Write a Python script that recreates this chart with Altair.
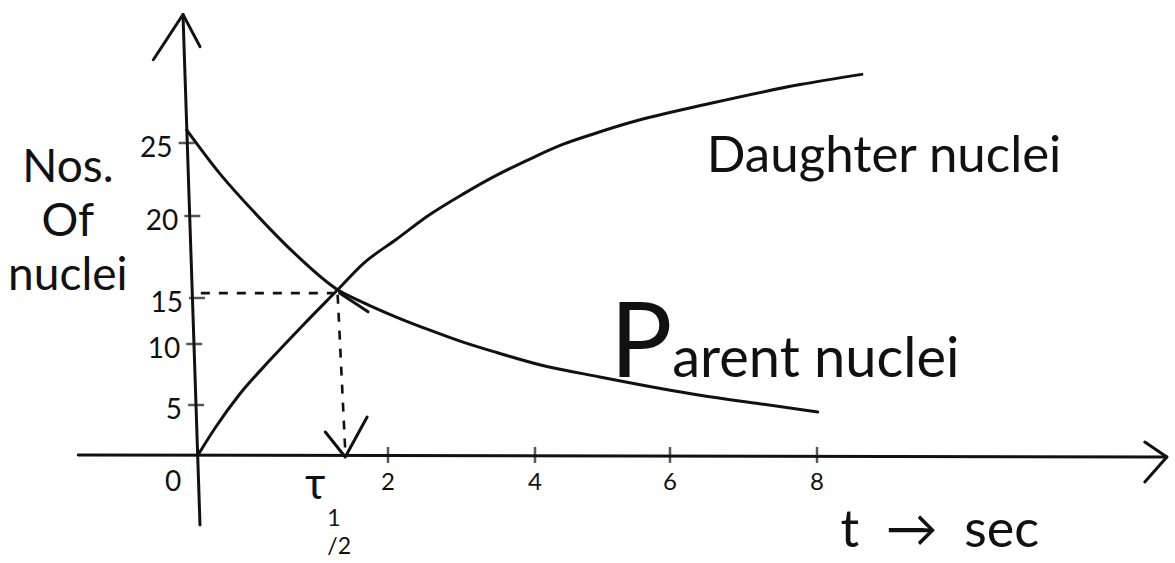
import altair as alt
import pandas as pd

# Hand-ruled axes: tick value -> pixel position (piecewise linear scales)
T_CAL = [0, 2, 4, 6, 8]
T_PIX = [198, 388, 535, 670, 817]
N_CAL = [0, 5, 10, 15, 20, 25]
N_PIX = [455, 405, 344, 298, 216, 143]

# Parent nuclei (decay curve)
T_PARENT = [-0.12, 0.23, 0.60, 1.02, 1.47, 1.74, 2.12, 2.57, 3.02, 3.48, 4.07, 4.96, 6.41, 7.22, 8.01]
N_PARENT = [25.9, 22.9, 20.2, 17.7, 15.5, 14.5, 12.9, 11.5, 10.2, 9.3, 8.3, 7.3, 5.8, 5.1, 4.3]

# Daughter nuclei (growth curve)
T_DAUGHTER = [0, 0.18, 0.44, 0.76, 1.11, 1.47, 1.74, 2.12, 2.57, 3.02, 3.48, 3.93, 4.41,
              4.92, 5.41, 6.54, 7.77, 8.61]
N_DAUGHTER = [0, 2.7, 5.9, 8.7, 12.1, 15.5, 17.1, 18.6, 20.1, 21.5, 22.8, 23.9, 24.9,
              25.7, 26.4, 27.7, 29.0, 29.7]

# Ticks
X_TICKS = [2, 4, 6, 8]
Y_TICKS = [5, 10, 15, 20, 25]
Y_TICK_T = [-0.02, -0.04, -0.01, -0.06, -0.12]

# Half-life marker
T_HALF = 1.55
N_HALF = 15.3

# Axis strokes (value coordinates)
Y_AXIS_T = [-0.158, 0.021]
Y_AXIS_N = [33.8, -7.0]
Y_HEAD_T = [-0.47, -0.158, 0.021]
Y_HEAD_N = [30.7, 33.8, 31.6]
X_AXIS_T = [-1.26, 12.76]
X_AXIS_N = [0.0, -0.2]
X_HEAD_T = [12.46, 12.76, 12.46]
X_HEAD_N = [1.3, -0.2, -2.7]
HALF_HEAD_T = [1.34, T_HALF, 1.78]
HALF_HEAD_N = [2.3, -0.2, 3.8]
DOUBLE_T = [1.49, 1.79]
DOUBLE_N = [15.3, 13.5]

# Dashed guides
H_DASH_T = [0.03, 1.42]
H_DASH_N = [N_HALF, N_HALF]
V_DASH_T = [1.47, T_HALF]
V_DASH_N = [15.2, 0.4]

# Text
Y_TITLE = "Nos.\nOf\nnuclei"
TAU_SUB = "1\n/2"

FONT = "Lato"
INK = "#111111"

xs = alt.Scale(domain=T_CAL, range=T_PIX, nice=False, zero=False)
ys = alt.Scale(domain=N_CAL, range=N_PIX, nice=False, zero=False)


def X(field="t"):
    return alt.X(f"{field}:Q", scale=xs, axis=None)


def Y(field="n"):
    return alt.Y(f"{field}:Q", scale=ys, axis=None)


def polyline(name, ts, ns):
    return pd.DataFrame({"stroke": name, "order": range(len(ts)), "t": ts, "n": ns})


def label_at(t, n, text):
    return pd.DataFrame({"t": [t], "n": [n], "label": [text]})


curves = pd.concat([
    polyline("parent", T_PARENT, N_PARENT),
    polyline("daughter", T_DAUGHTER, N_DAUGHTER),
])

strokes = pd.concat([
    polyline("y_axis", Y_AXIS_T, Y_AXIS_N),
    polyline("y_head", Y_HEAD_T, Y_HEAD_N),
    polyline("x_axis", X_AXIS_T, X_AXIS_N),
    polyline("x_head", X_HEAD_T, X_HEAD_N),
    polyline("half_head", HALF_HEAD_T, HALF_HEAD_N),
    polyline("double", DOUBLE_T, DOUBLE_N),
])

dashes = pd.concat([
    polyline("h_dash", H_DASH_T, H_DASH_N),
    polyline("v_dash", V_DASH_T, V_DASH_N),
])

curve_layer = alt.Chart(curves).mark_line(
    color=INK, strokeWidth=3, interpolate="monotone", strokeCap="round"
).encode(x=X(), y=Y(), detail="stroke:N", order="order:Q")

stroke_layer = alt.Chart(strokes).mark_line(
    color=INK, strokeWidth=3, strokeCap="round", strokeJoin="round"
).encode(x=X(), y=Y(), detail="stroke:N", order="order:Q")

dash_layer = alt.Chart(dashes).mark_line(
    color=INK, strokeWidth=2.6, strokeDash=[9, 9]
).encode(x=X(), y=Y(), detail="stroke:N", order="order:Q")

x_tick_df = pd.DataFrame({"t": X_TICKS, "n": [0] * len(X_TICKS), "label": [str(v) for v in X_TICKS]})
y_tick_df = pd.DataFrame({"t": Y_TICK_T, "n": Y_TICKS, "label": [str(v) for v in Y_TICKS]})

x_ticks = alt.Chart(x_tick_df).mark_tick(
    color=INK, orient="vertical", size=16, thickness=2.5
).encode(x=X(), y=Y())

y_ticks = alt.Chart(y_tick_df).mark_tick(
    color=INK, orient="horizontal", size=16, thickness=2.5
).encode(x=X(), y=Y())

x_labels = alt.Chart(x_tick_df).mark_text(
    font=FONT, fontSize=24, color=INK, align="center", baseline="middle", dy=28
).encode(x=X(), y=Y(), text="label:N")

zero_label = alt.Chart(label_at(0, 0, "0")).mark_text(
    font=FONT, fontSize=28, color=INK, align="center", baseline="middle", dx=-25, dy=28
).encode(x=X(), y=Y(), text="label:N")

y_labels = alt.Chart(y_tick_df).mark_text(
    font=FONT, fontSize=28, color=INK, align="right", baseline="middle", dx=-14, dy=6
).encode(x=X(), y=Y(), text="label:N")

tau = alt.Chart(label_at(T_HALF, 0, "τ")).mark_text(
    font=FONT, fontSize=44, color=INK, align="center", baseline="middle", dx=-30, dy=31
).encode(x=X(), y=Y(), text="label:N")

tau_sub = alt.Chart(label_at(T_HALF, 0, TAU_SUB)).mark_text(
    font=FONT, fontSize=23, lineHeight=28, lineBreak="\n", color=INK,
    align="left", baseline="top", dx=-18, dy=53
).encode(x=X(), y=Y(), text="label:N")

y_title = alt.Chart(label_at(-1.37, 24.8, Y_TITLE)).mark_text(
    font=FONT, fontSize=46, lineHeight=54, lineBreak="\n", color=INK,
    align="center", baseline="top"
).encode(x=X(), y=Y(), text="label:N")

daughter_label = alt.Chart(label_at(6.5, 23.0, "Daughter nuclei")).mark_text(
    font=FONT, fontSize=51, color=INK, align="left", baseline="alphabetic"
).encode(x=X(), y=Y(), text="label:N")

parent_p = alt.Chart(label_at(5.11, 7.3, "P")).mark_text(
    font=FONT, fontSize=104, color=INK, align="left", baseline="alphabetic"
).encode(x=X(), y=Y(), text="label:N")

parent_rest = alt.Chart(label_at(6.03, 7.3, "arent nuclei")).mark_text(
    font=FONT, fontSize=56, color=INK, align="left", baseline="alphabetic"
).encode(x=X(), y=Y(), text="label:N")

time_label = alt.Chart(label_at(9.67, -9.2, "t\u00a0\u00a0\u2192\u00a0\u00a0sec")).mark_text(
    font=FONT, fontSize=52, color=INK, align="center", baseline="alphabetic"
).encode(x=X(), y=Y(), text="label:N")

chart = alt.layer(
    stroke_layer, dash_layer, curve_layer, x_ticks, y_ticks,
    x_labels, zero_label, y_labels, tau, tau_sub,
    y_title, daughter_label, parent_p, parent_rest, time_label,
).properties(
    width=1175, height=563, padding=0, autosize="none", background="white"
).configure_view(stroke=None)

chart.save("out.html", embed_options={"renderer": "svg", "actions": False})
